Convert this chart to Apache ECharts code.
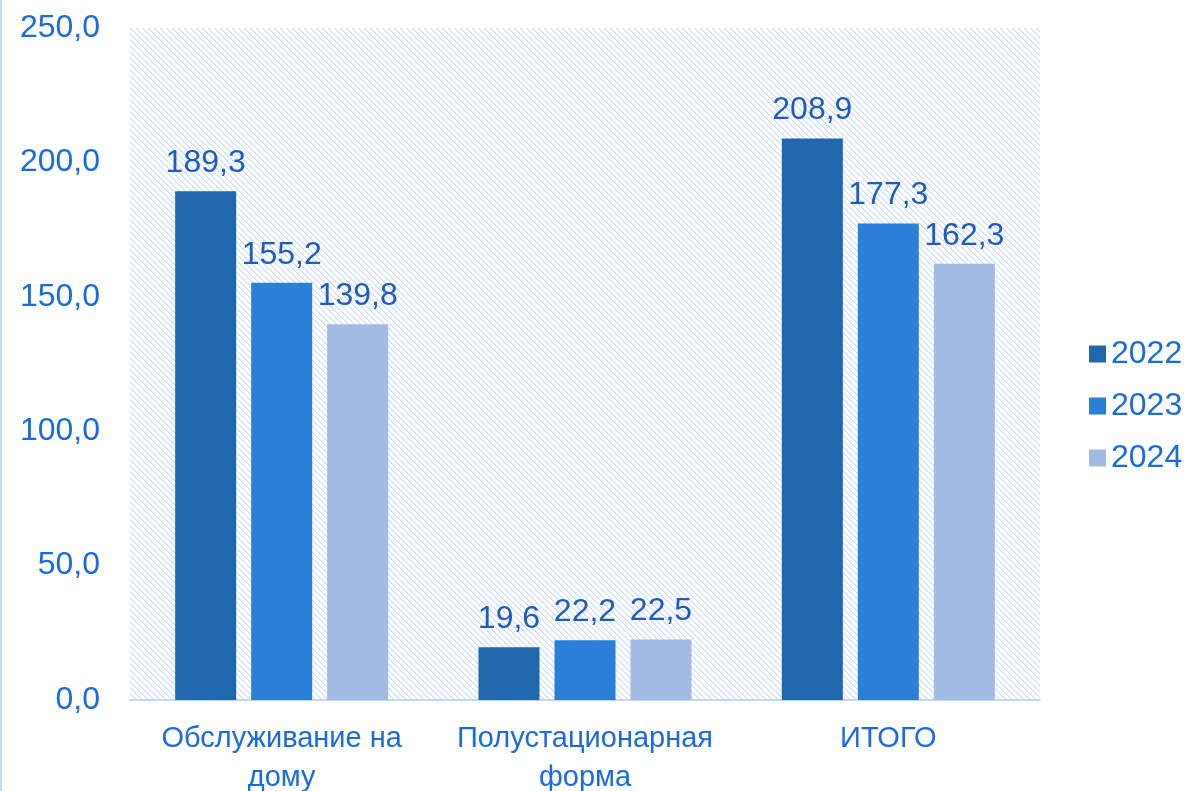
<!DOCTYPE html>
<html><head><meta charset="utf-8">
<script src="https://cdn.jsdelivr.net/npm/echarts@6/dist/echarts.min.js"></script>
<style>html,body{margin:0;padding:0;background:#fff}#c{width:1186px;height:791px}</style>
</head><body><div id="c"></div>
<script>
const categories = ['Обслуживание на\nдому', 'Полустационарная\nформа', 'ИТОГО'];
const seriesNames = ['2022', '2023', '2024'];
const values2022 = [189.3, 19.6, 208.9];
const values2023 = [155.2, 22.2, 177.3];
const values2024 = [139.8, 22.5, 162.3];
const seriesColors = ['#2167AE', '#2B7FD6', '#A3BAE3'];

const tile = document.createElement('canvas');
tile.width = 6; tile.height = 6;
const tctx = tile.getContext('2d');
const img = tctx.createImageData(6, 6);
for (let y = 0; y < 6; y++) for (let x = 0; x < 6; x++) {
  const i = (y * 6 + x) * 4;
  const d = ((x - y + 12) % 6);
  let c = [255, 255, 255];
  if (d === 0) c = [0xc8, 0xdb, 0xf8];
  else if (d === 1) c = [0xe6, 0xef, 0xfc];
  img.data[i] = c[0]; img.data[i+1] = c[1]; img.data[i+2] = c[2]; img.data[i+3] = 255;
}
tctx.putImageData(img, 0, 0);

const fmt = v => v.toFixed(1).replace('.', ',');
const font = '"Liberation Sans", Arial, sans-serif';
const dataSets = [values2022, values2023, values2024];

const chart = echarts.init(document.getElementById('c'), null, {renderer: 'canvas'});
chart.setOption({
  animation: false,
  grid: {left: 130, right: 146, top: 28, bottom: 91, show: true, borderWidth: 0,
         outerBoundsMode: 'none', containLabel: false,
         backgroundColor: {image: tile, repeat: 'repeat'}},
  legend: {orient: 'vertical', left: 1084, top: 333, itemWidth: 17, itemHeight: 17, itemGap: 20,
           icon: 'rect', textStyle: {color: '#1A6BE0', fontSize: 32, fontFamily: font, padding: [0, 0, 0, 0]}, data: seriesNames},
  xAxis: {type: 'category', data: categories,
          axisLine: {lineStyle: {color: '#C5D9F5', width: 2}},
          axisTick: {lineStyle: {color: '#C5D9F5', width: 2}, length: 10},
          axisLabel: {interval: 0, color: '#1A6BE0', fontSize: 29, fontFamily: font, lineHeight: 39, margin: 19}},
  yAxis: {type: 'value', min: 0, max: 250, interval: 50,
          axisLine: {show: false}, axisTick: {show: false}, splitLine: {show: false},
          axisLabel: {color: '#1A6BE0', fontSize: 32, fontFamily: font, margin: 30, formatter: fmt}},
  graphic: [{type: 'line', shape: {x1: 1, y1: 0, x2: 1, y2: 791}, style: {stroke: '#C5D9F5', lineWidth: 2}}],
  series: seriesNames.map((n, k) => ({
    name: n, type: 'bar', data: dataSets[k], barWidth: 61, barGap: '24.6%',
    itemStyle: {color: seriesColors[k]},
    label: {show: true, position: 'top', distance: 12, color: '#1F5BC0', fontSize: 32, fontFamily: font, formatter: p => fmt(p.value)}
  }))
});
</script></body></html>
